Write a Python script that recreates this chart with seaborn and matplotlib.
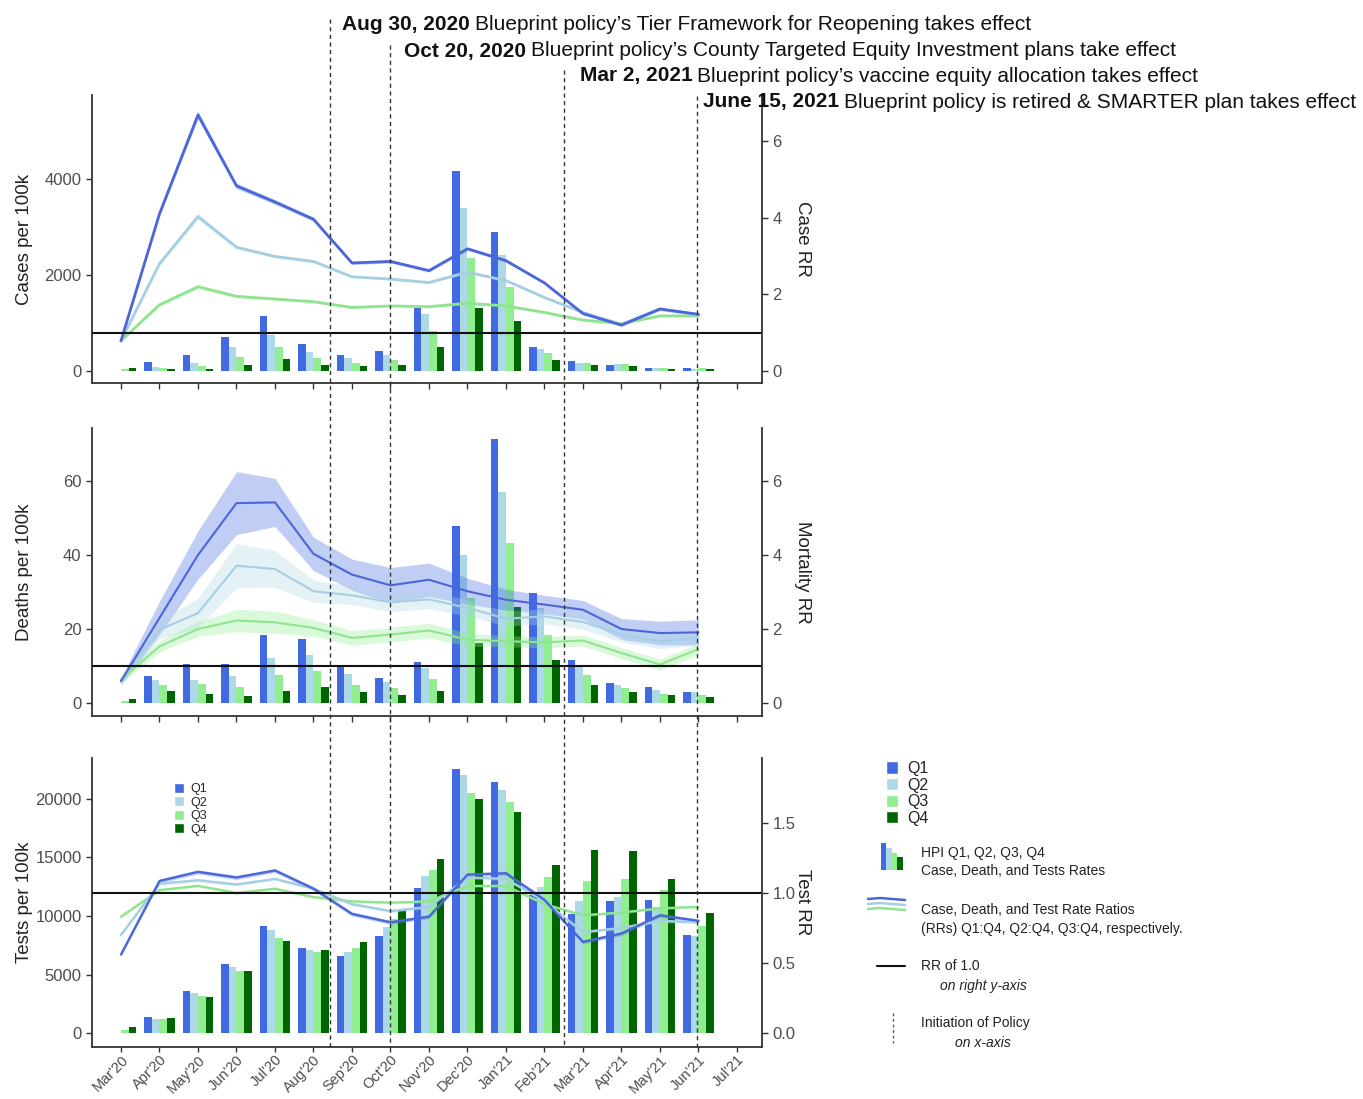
import numpy as np
import pandas as pd
import matplotlib
matplotlib.use("Agg")
import matplotlib.pyplot as plt
from matplotlib.patches import Patch
from matplotlib.ticker import FormatStrFormatter
import seaborn as sns

sns.set_style("ticks")
plt.rcParams["font.family"] = ["Liberation Sans", "DejaVu Sans"]

# months on the x axis (Jul'21 has no data)
months = ["Mar'20", "Apr'20", "May'20", "Jun'20", "Jul'20", "Aug'20", "Sep'20",
          "Oct'20", "Nov'20", "Dec'20", "Jan'21", "Feb'21", "Mar'21", "Apr'21",
          "May'21", "Jun'21", "Jul'21"]
quartiles = ["Q1", "Q2", "Q3", "Q4"]
bar_colors = ["#4169E1", "#ADD8E6", "#90EE90", "#006400"]
rr_colors = ["#4a66d9", "#a6cee3", "#8fe48f"]
band_colors = ["#4169E1", "#ADD8E6", "#90EE90"]

# cases per 100k by HPI quartile
cases_q1 = [0, 190, 330, 710, 1150, 570, 330, 410, 1310, 4170, 2890, 510, 210, 125, 70, 70]
cases_q2 = [0, 90, 175, 490, 750, 400, 265, 330, 1180, 3395, 2425, 450, 175, 155, 55, 50]
cases_q3 = [50, 70, 100, 300, 490, 265, 175, 235, 835, 2350, 1756, 370, 175, 155, 55, 55]
cases_q4 = [60, 50, 50, 125, 245, 125, 100, 125, 490, 1317, 1045, 235, 120, 100, 50, 50]

# case rate ratios (Q1:Q4, Q2:Q4, Q3:Q4) and half width of band
case_rr_q1 = [0.79, 4.10, 6.68, 4.83, 4.41, 3.96, 2.82, 2.86, 2.62, 3.19, 2.88, 2.30, 1.50, 1.20, 1.62, 1.48]
case_rr_q2 = [0.79, 2.80, 4.03, 3.23, 2.99, 2.86, 2.46, 2.40, 2.31, 2.58, 2.36, 1.92, 1.53, 1.22, 1.62, 1.47]
case_rr_q3 = [0.79, 1.73, 2.20, 1.95, 1.88, 1.81, 1.66, 1.70, 1.68, 1.77, 1.70, 1.53, 1.33, 1.24, 1.44, 1.44]
case_hw_q1 = [0.03, 0.06, 0.10, 0.07, 0.06, 0.05, 0.04, 0.04, 0.04, 0.04, 0.04, 0.03, 0.03, 0.03, 0.04, 0.04]
case_hw_q2 = [0.03, 0.05, 0.08, 0.05, 0.04, 0.04, 0.03, 0.03, 0.03, 0.03, 0.03, 0.03, 0.03, 0.03, 0.03, 0.03]
case_hw_q3 = [0.03, 0.04, 0.05, 0.04, 0.03, 0.03, 0.03, 0.03, 0.03, 0.03, 0.03, 0.03, 0.03, 0.03, 0.03, 0.03]

# deaths per 100k
deaths_q1 = [0, 7.2, 10.5, 10.5, 18.3, 17.3, 9.8, 6.9, 11.1, 47.7, 71.4, 29.7, 11.7, 5.4, 4.3, 3.0]
deaths_q2 = [0, 6.1, 6.1, 7.2, 12.3, 13.0, 7.9, 5.7, 9.5, 39.9, 57.0, 25.7, 9.7, 4.8, 3.6, 2.9]
deaths_q3 = [0.5, 4.8, 5.1, 4.3, 7.5, 8.7, 4.8, 4.1, 6.5, 28.4, 43.1, 18.3, 7.7, 4.1, 2.5, 2.3]
deaths_q4 = [1.1, 3.3, 2.5, 2.0, 3.3, 4.3, 2.9, 2.3, 3.3, 16.2, 25.9, 11.7, 4.8, 3.0, 2.3, 1.5]

mort_rr_q1 = [0.59, 2.30, 4.00, 5.40, 5.42, 4.03, 3.47, 3.18, 3.33, 3.02, 2.79, 2.66, 2.52, 2.00, 1.89, 1.91]
mort_rr_q2 = [0.63, 1.98, 2.43, 3.71, 3.62, 3.02, 2.91, 2.72, 2.80, 2.57, 2.28, 2.34, 2.19, 1.85, 1.67, 1.76]
mort_rr_q3 = [0.63, 1.53, 2.00, 2.23, 2.18, 2.03, 1.76, 1.85, 1.96, 1.71, 1.67, 1.64, 1.69, 1.35, 1.04, 1.46]
mort_hw_q1 = [0.10, 0.45, 0.65, 0.85, 0.65, 0.45, 0.42, 0.48, 0.45, 0.35, 0.28, 0.25, 0.25, 0.28, 0.32, 0.34]
mort_hw_q2 = [0.10, 0.25, 0.40, 0.60, 0.50, 0.30, 0.25, 0.25, 0.25, 0.22, 0.20, 0.20, 0.20, 0.20, 0.20, 0.20]
mort_hw_q3 = [0.10, 0.15, 0.20, 0.30, 0.30, 0.22, 0.20, 0.20, 0.20, 0.17, 0.15, 0.15, 0.15, 0.15, 0.15, 0.15]

# tests per 100k
tests_q1 = [0, 1360, 3550, 5900, 9170, 7270, 6560, 8260, 12350, 22520, 21470, 11790, 10170, 11300, 11400, 8380]
tests_q2 = [0, 1220, 3380, 5680, 8830, 7130, 6900, 9090, 13430, 22010, 20760, 12440, 11300, 11600, 10800, 8260]
tests_q3 = [280, 1220, 3150, 5340, 8120, 6900, 7270, 9740, 13940, 20530, 19740, 13350, 13010, 13150, 12200, 9170]
tests_q4 = [510, 1280, 3040, 5340, 7900, 7130, 7750, 10500, 14850, 20020, 18890, 14370, 15620, 15510, 13150, 10220]

test_rr_q1 = [0.56, 1.085, 1.15, 1.11, 1.16, 1.03, 0.85, 0.79, 0.83, 1.13, 1.14, 0.95, 0.65, 0.71, 0.84, 0.80]
test_rr_q2 = [0.70, 1.066, 1.09, 1.06, 1.10, 1.03, 0.92, 0.87, 0.90, 1.11, 1.10, 0.94, 0.72, 0.75, 0.80, 0.79]
test_rr_q3 = [0.83, 1.02, 1.05, 1.00, 1.03, 0.97, 0.94, 0.93, 0.94, 1.05, 1.05, 0.92, 0.84, 0.86, 0.89, 0.90]
test_hw_q1 = [0.015, 0.015, 0.015, 0.015, 0.015, 0.015, 0.015, 0.015, 0.015, 0.015, 0.015, 0.015, 0.015, 0.015, 0.015, 0.015]
test_hw_q2 = [0.012, 0.012, 0.012, 0.012, 0.012, 0.012, 0.012, 0.012, 0.012, 0.012, 0.012, 0.012, 0.012, 0.012, 0.012, 0.012]
test_hw_q3 = [0.010, 0.010, 0.010, 0.010, 0.010, 0.010, 0.010, 0.010, 0.010, 0.010, 0.010, 0.010, 0.010, 0.010, 0.010, 0.010]

# policy events and where they sit on the month axis
policy_dates = ["Aug 30, 2020", "Oct 20, 2020", "Mar 2, 2021", "June 15, 2021"]
policy_desc = ["Blueprint policy\u2019s Tier Framework for Reopening takes effect",
               "Blueprint policy\u2019s County Targeted Equity Investment plans take effect",
               "Blueprint policy\u2019s vaccine equity allocation takes effect",
               "Blueprint policy is retired & SMARTER plan takes effect"]
policy_pos = [5.43, 7.0, 11.5, 14.95]

W, H = 1363, 1099
L, R = 92, 762
XLIM = (-0.753, 16.65)
TXT = "#222222"
TICK = "#4d4d4d"

fig = plt.figure(figsize=(W / 100, H / 100), dpi=100)


def box(top, bottom):
    return [L / W, 1 - bottom / H, (R - L) / W, (bottom - top) / H]


panels = [
    dict(top=95, bottom=383, rates=[cases_q1, cases_q2, cases_q3, cases_q4],
         rr=[case_rr_q1, case_rr_q2, case_rr_q3], hw=[case_hw_q1, case_hw_q2, case_hw_q3],
         ylim=(-250, 5750), yticks=[0, 2000, 4000], rylim=(-0.31, 7.2), rticks=[0, 2, 4, 6],
         rfmt="%d", ylabel="Cases per 100k", rlabel="Case RR", lw=2.0, balpha=0.35),
    dict(top=428, bottom=716, rates=[deaths_q1, deaths_q2, deaths_q3, deaths_q4],
         rr=[mort_rr_q1, mort_rr_q2, mort_rr_q3], hw=[mort_hw_q1, mort_hw_q2, mort_hw_q3],
         ylim=(-3.5, 74.3), yticks=[0, 20, 40, 60], rylim=(-0.35, 7.43), rticks=[0, 2, 4, 6],
         rfmt="%d", ylabel="Deaths per 100k", rlabel="Mortality RR", lw=1.5, balpha=0.33),
    dict(top=758, bottom=1047, rates=[tests_q1, tests_q2, tests_q3, tests_q4],
         rr=[test_rr_q1, test_rr_q2, test_rr_q3], hw=[test_hw_q1, test_hw_q2, test_hw_q3],
         ylim=(-1190, 23490), yticks=[0, 5000, 10000, 15000, 20000], rylim=(-0.1, 1.963),
         rticks=[0, 0.5, 1.0, 1.5], rfmt="%.1f", ylabel="Tests per 100k", rlabel="Test RR",
         lw=1.7, balpha=0.3),
]

for i, p in enumerate(panels):
    ax = fig.add_axes(box(p["top"], p["bottom"]))
    rows = []
    for q, vals in zip(quartiles, p["rates"]):
        for m, v in zip(months, vals):
            rows.append({"month": m, "quartile": q, "value": v})
    df = pd.DataFrame(rows)
    sns.barplot(data=df, x="month", y="value", hue="quartile", order=months,
                hue_order=quartiles, palette=dict(zip(quartiles, bar_colors)),
                saturation=1, width=0.8, linewidth=0, errorbar=None, legend=False, ax=ax)

    ax2 = ax.twinx()
    xs = np.arange(len(p["rr"][0]))
    for vals, hw, bc in zip(p["rr"], p["hw"], band_colors):
        lo = np.array(vals) - np.array(hw)
        hi = np.array(vals) + np.array(hw)
        ax2.fill_between(xs, lo, hi, color=bc, alpha=p["balpha"], linewidth=0)
    for vals, lc in zip(p["rr"][::-1], rr_colors[::-1]):
        sns.lineplot(x=xs, y=vals, color=lc, linewidth=p["lw"], ax=ax2)
    ax2.axhline(1.0, color="#111111", linewidth=1.5)

    ax.set_xlim(*XLIM)
    ax.set_ylim(*p["ylim"])
    ax.set_yticks(p["yticks"])
    ax2.set_ylim(*p["rylim"])
    ax2.set_yticks(p["rticks"])
    ax2.yaxis.set_major_formatter(FormatStrFormatter(p["rfmt"]))
    ax.set_xticks(range(len(months)))

    for a in (ax, ax2):
        a.spines["top"].set_visible(False)
        for s in a.spines.values():
            s.set_color("#333333")
            s.set_linewidth(1.3)
        a.tick_params(length=4, width=1, color="#333333", labelcolor=TICK, labelsize=12)
    ax.spines["right"].set_visible(False)
    ax2.spines["left"].set_visible(False)
    ax2.spines["bottom"].set_visible(False)

    ax.set_xlabel("")
    ax2.set_xlabel("")
    ax.set_ylabel(p["ylabel"], fontsize=13.5, color=TXT)
    ax.yaxis.set_label_coords(-0.088, 0.5)
    ax2.set_ylabel(p["rlabel"], fontsize=13.5, color=TXT, rotation=270, va="center")
    ax2.yaxis.set_label_coords(1.061, 0.5)

    if i == 2:
        ax.tick_params(axis="x", pad=0.5, length=3.5)
        ax.set_xticklabels(months, rotation=45, ha="right", rotation_mode="anchor",
                           fontsize=10.5, color=TICK)
        handles = [Patch(facecolor=c, label=q) for q, c in zip(quartiles, bar_colors)]
        ax2.legend(handles=handles, loc="upper left", bbox_to_anchor=(0.122, 0.915),
                   frameon=False, fontsize=9, handlelength=0.8, handleheight=0.9,
                   labelspacing=0.08, handletextpad=0.5, borderaxespad=0, borderpad=0)
    else:
        ax.set_xticklabels([])

# policy lines and header text, drawn over all three panels
ov = fig.add_axes([L / W, 0, (R - L) / W, 1])
ov.set_xlim(*XLIM)
ov.set_ylim(H, 0)
ov.axis("off")
header_rows = [25, 51, 76, 102]
header_dx = [12, 14, 16, 6]
for pos, row, dx, date, desc in zip(policy_pos, header_rows, header_dx, policy_dates, policy_desc):
    ov.vlines(pos, row - 6, 1047, colors="#333333", linestyles=(0, (3, 2.5)), linewidth=1)
    t = ov.annotate(date, xy=(pos, row), xytext=(dx, 0), textcoords="offset pixels",
                    fontsize=15, fontweight="bold", va="center", ha="left", color="#111111",
                    annotation_clip=False)
    ov.annotate(desc, xy=(1, 0.5), xycoords=t, xytext=(5, 0), textcoords="offset pixels",
                fontsize=15, va="center", ha="left", color="#111111", annotation_clip=False)

# legend block on the right
lg = fig.add_axes([0, 0, 1, 1])
lg.set_xlim(0, W)
lg.set_ylim(H, 0)
lg.axis("off")
handles = [Patch(facecolor=c, label=q) for q, c in zip(quartiles, bar_colors)]
fig.legend(handles=handles, loc="upper left", bbox_to_anchor=(886 / W, 1 - 761 / H),
           frameon=False, fontsize=11.5, handlelength=0.75, handleheight=0.8,
           labelspacing=0.1, handletextpad=0.6, borderaxespad=0, borderpad=0,
           labelcolor=TXT)
lg.bar([883.5, 889, 894.5, 900], [-27, -22, -17, -13], bottom=870, width=5.5,
       color=bar_colors, linewidth=0)
for yy, c in zip([899, 904, 909], rr_colors):
    lg.plot([868, 880, 905], [yy, yy - 1, yy + 1], color=c, linewidth=1.8)
lg.plot([877, 905], [966, 966], color="#111111", linewidth=1.5)
lg.plot([893, 893], [1013, 1043], color="#555577", linewidth=1, linestyle=(0, (2, 2)))
legend_text = [
    (921, 853, "HPI Q1, Q2, Q3, Q4", "normal"),
    (921, 871, "Case, Death, and Tests Rates", "normal"),
    (921, 910, "Case, Death, and Test Rate Ratios", "normal"),
    (921, 929, "(RRs) Q1:Q4, Q2:Q4, Q3:Q4, respectively.", "normal"),
    (921, 966, "RR of 1.0", "normal"),
    (940, 986, "on right y-axis", "italic"),
    (921, 1023, "Initiation of Policy", "normal"),
    (955, 1043, "on x-axis", "italic"),
]
for x, y, s, style in legend_text:
    lg.text(x, y, s, fontsize=10, style=style, va="center", ha="left", color=TXT)

fig.savefig("out.png", dpi=100)
